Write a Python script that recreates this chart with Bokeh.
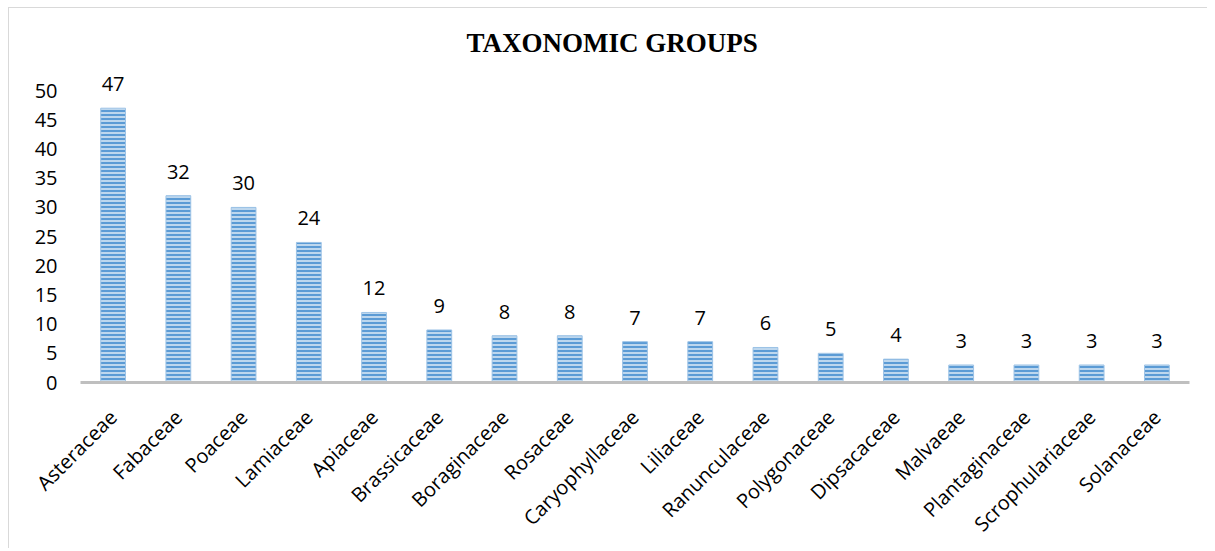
import math
from bokeh.plotting import figure
from bokeh.models import ColumnDataSource, FixedTicker, Title, LabelSet
from bokeh.core.properties import value
from bokeh.embed import file_html
from bokeh.resources import INLINE

families = ["Asteraceae", "Fabaceae", "Poaceae", "Lamiaceae", "Apiaceae",
            "Brassicaceae", "Boraginaceae", "Rosaceae", "Caryophyllaceae",
            "Liliaceae", "Ranunculaceae", "Polygonaceae", "Dipsacaceae",
            "Malvaeae", "Plantaginaceae", "Scrophulariaceae", "Solanaceae"]
counts = [47, 32, 30, 24, 12, 9, 8, 8, 7, 7, 6, 5, 4, 3, 3, 3, 3]
y_ticks = [0, 5, 10, 15, 20, 25, 30, 35, 40, 45, 50]

source = ColumnDataSource(dict(x=families, y=counts, label=[str(c) for c in counts]))

p = figure(x_range=families, y_range=(0, 55), width=1199, height=541,
           output_backend="svg", toolbar_location=None,
           min_border_left=71, min_border_right=19, min_border_top=53,
           min_border_bottom=167)
p.styles = {"border-top": "1px solid #d9d9d9", "border-left": "1px solid #d9d9d9",
            "margin-left": "8px", "margin-top": "7px"}
p.outline_line_color = None
p.xgrid.grid_line_color = None
p.ygrid.grid_line_color = None

p.vbar(x="x", top="y", width=0.38, source=source,
       fill_color="#bdd7ee", line_color="#9dc3e6", line_width=1,
       hatch_pattern="horizontal_line", hatch_color="#5b9bd5",
       hatch_scale=4, hatch_weight=2)

labels = LabelSet(x="x", y="y", text="label", source=source,
                  text_align="center", text_baseline="alphabetic",
                  y_offset=17, text_font=value("Open Sans"), text_font_size=value("20px"),
                  text_color="#000000")
p.add_layout(labels)

p.yaxis.ticker = FixedTicker(ticks=y_ticks)
p.yaxis.axis_line_color = None
p.yaxis.major_tick_line_color = None
p.yaxis.minor_tick_line_color = None
p.yaxis.major_label_text_font = "Open Sans"
p.yaxis.major_label_text_font_size = "20px"
p.yaxis.major_label_text_color = "#000000"
p.yaxis.major_label_standoff = 17

p.xaxis.axis_line_color = "#bfbfbf"
p.xaxis.axis_line_width = 3
p.xaxis.major_tick_line_color = None
p.xaxis.minor_tick_line_color = None
p.xaxis.major_label_orientation = math.pi / 4
p.xaxis.major_label_text_font = "Open Sans"
p.xaxis.major_label_text_font_size = "20px"
p.xaxis.major_label_text_color = "#000000"
p.xaxis.major_label_standoff = 25

title = Title(text="TAXONOMIC GROUPS", align="left", text_font="Liberation Serif",
              text_font_size="27px", text_font_style="bold", text_color="#000000",
              standoff=8, offset=386)
p.add_layout(title, "above")

open("out.html", "w").write(file_html(p, INLINE))
